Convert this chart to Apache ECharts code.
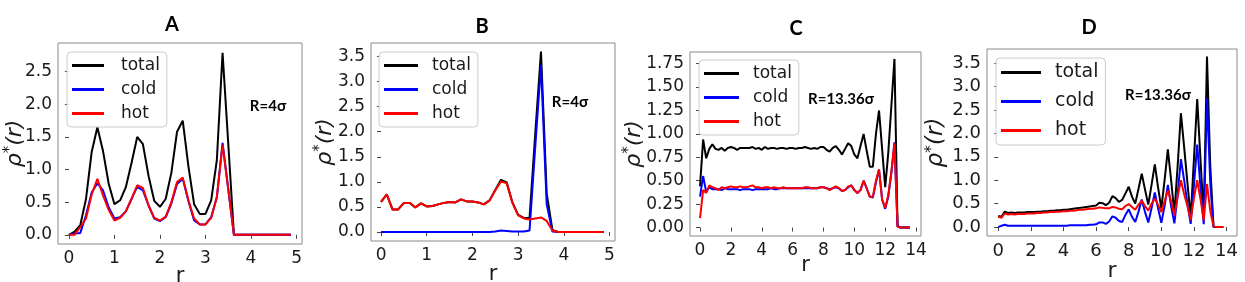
<!DOCTYPE html>
<html><head><meta charset="utf-8">
<script src="https://cdn.jsdelivr.net/npm/echarts@6/dist/echarts.min.js"></script>
<style>html,body{margin:0;padding:0;background:#fff}#c{width:1245px;height:282px}</style>
</head><body><div id="c"></div>
<script>
// ---- data ----
const seriesNames = ['total', 'cold', 'hot'];
const panelTitles = ['A', 'B', 'C', 'D'];
const annotations = ['R=4σ', 'R=4σ', 'R=13.36σ', 'R=13.36σ'];

const rA = [0,0.125,0.25,0.375,0.5,0.625,0.75,0.875,1,1.125,1.25,1.375,1.5,1.625,1.75,1.875,2,2.125,2.25,2.375,2.5,2.625,2.75,2.875,3,3.125,3.25,3.375,3.5,3.625,3.75,3.875,4,4.125,4.25,4.375,4.5,4.625,4.75,4.875];
const totalA = [0.0,0.05,0.15,0.55,1.27,1.65,1.28,0.78,0.47,0.53,0.73,1.10,1.50,1.39,0.90,0.52,0.43,0.55,0.95,1.58,1.75,1.05,0.47,0.32,0.32,0.53,1.15,2.79,1.40,0.0,0,0,0,0,0,0,0,0,0,0];
const coldA = [0.0,0.02,0.03,0.30,0.65,0.79,0.68,0.42,0.25,0.27,0.36,0.55,0.74,0.68,0.45,0.25,0.21,0.27,0.48,0.78,0.86,0.52,0.22,0.16,0.16,0.27,0.58,1.41,0.70,0.0,0,0,0,0,0,0,0,0,0,0];
const hotA = [0.0,0.0,0.12,0.25,0.62,0.86,0.60,0.38,0.22,0.26,0.36,0.55,0.76,0.72,0.45,0.26,0.22,0.28,0.50,0.81,0.88,0.53,0.25,0.16,0.16,0.26,0.58,1.38,0.70,0.0,0,0,0,0,0,0,0,0,0,0];

const rB = [0,0.125,0.25,0.375,0.5,0.625,0.75,0.875,1,1.125,1.25,1.375,1.5,1.625,1.75,1.875,2,2.125,2.25,2.375,2.5,2.625,2.75,2.875,3,3.125,3.25,3.375,3.5,3.625,3.75,3.875,4,4.125,4.25,4.375,4.5,4.625,4.75,4.875];
const totalB = [0.60,0.75,0.45,0.45,0.58,0.58,0.49,0.57,0.51,0.52,0.55,0.58,0.60,0.59,0.65,0.61,0.61,0.59,0.55,0.63,0.84,1.04,0.99,0.59,0.34,0.28,0.28,1.97,3.60,0.77,0.04,0.0,0,0,0,0,0,0,0,0];
const coldB = [0,0,0,0,0,0,0,0,0,0,0,0,0,0,0,0,0,0,0,0,0.01,0.03,0.02,0.01,0.01,0.01,0.03,1.70,3.33,0.55,0.01,0.0,0,0,0,0,0,0,0,0];
const hotB = [0.60,0.75,0.45,0.45,0.58,0.58,0.49,0.57,0.51,0.52,0.55,0.58,0.60,0.59,0.65,0.61,0.61,0.59,0.55,0.63,0.83,1.01,0.97,0.58,0.33,0.27,0.25,0.27,0.29,0.22,0.03,0.0,0,0,0,0,0,0,0,0];

const rC = [0,0.2,0.4,0.6,0.8,1,1.2,1.4,1.6,1.8,2,2.2,2.4,2.6,2.8,3,3.2,3.4,3.6,3.8,4,4.2,4.4,4.6,4.8,5,5.2,5.4,5.6,5.8,6,6.2,6.4,6.6,6.8,7,7.2,7.4,7.6,7.8,8,8.2,8.4,8.6,8.8,9,9.2,9.4,9.6,9.8,10,10.2,10.4,10.6,10.8,11,11.2,11.4,11.6,11.8,12,12.2,12.4,12.6,12.8,13,13.2,13.4,13.6];
const totalC = [0.44,0.94,0.74,0.84,0.89,0.84,0.83,0.85,0.82,0.85,
  0.86,0.85,0.83,0.85,0.85,0.85,0.85,0.86,0.84,0.85,
  0.83,0.86,0.84,0.85,0.85,0.84,0.85,0.85,0.84,0.85,
  0.85,0.84,0.85,0.85,0.86,0.85,0.84,0.85,0.84,0.86,
  0.86,0.83,0.81,0.85,0.87,0.83,0.78,0.84,0.90,0.87,
  0.78,0.74,0.87,1.00,0.82,0.65,0.65,1.00,1.25,0.84,
  0.43,0.80,1.30,1.80,0.02,0,0,0,0];
const coldC = [0.33,0.55,0.38,0.43,0.41,0.41,0.41,0.40,0.42,0.41,
  0.41,0.41,0.41,0.40,0.41,0.41,0.41,0.40,0.41,0.41,
  0.41,0.41,0.41,0.42,0.41,0.41,0.42,0.42,0.42,0.42,
  0.42,0.42,0.42,0.42,0.42,0.42,0.42,0.42,0.42,0.43,
  0.43,0.42,0.41,0.42,0.43,0.42,0.39,0.40,0.43,0.45,
  0.40,0.37,0.40,0.50,0.42,0.33,0.32,0.48,0.62,0.30,
  0.20,0.33,0.58,0.91,0.01,0,0,0,0];
const hotC = [0.10,0.40,0.37,0.45,0.43,0.42,0.40,0.43,0.42,0.43,
  0.44,0.43,0.43,0.44,0.43,0.43,0.44,0.45,0.43,0.43,
  0.42,0.43,0.43,0.42,0.43,0.42,0.42,0.43,0.42,0.42,
  0.42,0.42,0.42,0.42,0.43,0.43,0.42,0.42,0.42,0.43,
  0.43,0.42,0.40,0.42,0.44,0.42,0.39,0.40,0.44,0.45,
  0.40,0.37,0.40,0.50,0.42,0.33,0.33,0.50,0.62,0.30,
  0.21,0.35,0.60,0.90,0.01,0,0,0,0];

const rD = [0,0.2,0.4,0.6,0.8,1,1.2,1.4,1.6,1.8,2,2.2,2.4,2.6,2.8,3,3.2,3.4,3.6,3.8,4,4.2,4.4,4.6,4.8,5,5.2,5.4,5.6,5.8,6,6.2,6.4,6.6,6.8,7,7.2,7.4,7.6,7.8,8,8.2,8.4,8.6,8.8,9,9.2,9.4,9.6,9.8,10,10.2,10.4,10.6,10.8,11,11.2,11.4,11.6,11.8,12,12.2,12.4,12.6,12.8,13,13.2,13.4,13.6,13.8];
const totalD = [0.24,0.22,0.33,0.30,0.31,0.30,0.31,0.31,0.31,0.32,
  0.32,0.32,0.33,0.33,0.34,0.34,0.35,0.35,0.36,0.36,
  0.37,0.37,0.38,0.39,0.40,0.41,0.42,0.43,0.44,0.45,
  0.46,0.52,0.51,0.47,0.52,0.66,0.62,0.54,0.58,0.72,
  0.86,0.65,0.50,0.82,1.14,0.80,0.48,0.90,1.34,0.85,
  0.40,1.00,1.66,1.00,0.30,1.30,2.43,1.70,0.95,0.20,
  1.45,2.73,1.45,0.21,3.64,1.30,0.01,0,0,0];
const coldD = [0.00,0.03,0.05,0.03,0.03,0.03,0.03,0.03,0.03,0.03,
  0.03,0.03,0.03,0.03,0.03,0.03,0.03,0.03,0.03,0.03,
  0.03,0.03,0.04,0.04,0.04,0.04,0.04,0.04,0.05,0.05,
  0.06,0.10,0.10,0.07,0.12,0.23,0.20,0.13,0.11,0.26,
  0.38,0.22,0.11,0.33,0.59,0.32,0.10,0.40,0.74,0.40,
  0.09,0.45,0.90,0.45,0.08,0.70,1.45,1.00,0.50,0.07,
  0.90,1.76,0.85,0.06,2.75,0.95,0.00,0,0,0];
const hotD = [0.22,0.20,0.29,0.27,0.28,0.27,0.28,0.28,0.28,0.29,
  0.29,0.29,0.30,0.30,0.31,0.31,0.32,0.32,0.33,0.33,
  0.34,0.34,0.35,0.35,0.36,0.37,0.37,0.38,0.39,0.39,
  0.40,0.42,0.41,0.40,0.40,0.43,0.42,0.39,0.38,0.45,
  0.49,0.43,0.37,0.48,0.56,0.45,0.35,0.50,0.61,0.48,
  0.32,0.55,0.78,0.55,0.25,0.65,1.00,0.70,0.45,0.15,
  0.62,1.00,0.60,0.15,0.92,0.35,0.01,0,0,0];

const xTicksA = [0,1,2,3,4,5];
const yTicksA = [0,0.5,1.0,1.5,2.0,2.5];
const xTicksB = [0,1,2,3,4,5];
const yTicksB = [0,0.5,1.0,1.5,2.0,2.5,3.0,3.5];
const xTicksC = [0,2,4,6,8,10,12,14];
const yTicksC = [0,0.25,0.5,0.75,1.0,1.25,1.5,1.75];
const xTicksD = [0,2,4,6,8,10,12,14];
const yTicksD = [0,0.5,1.0,1.5,2.0,2.5,3.0,3.5];

// ---- layout / style ----
const colors = ['#000000', '#0000ff', '#ff0000'];
const panels = [
  {r:rA, s:[totalA,coldA,hotA], xt:xTicksA, yt:yTicksA, dec:1,
   grid:{left:58,top:43,width:244,height:201}, xr:[-0.24,5.12], yr:[-0.14,2.94], fs:17,
   nameGapY:31, nameGapX:22, legend:{left:67,top:52,itemWidth:32,gap:7,fs:17,tp:12},
   title:[172,25], ann:[268,106]},
  {r:rB, s:[totalB,coldB,hotB], xt:xTicksB, yt:yTicksB, dec:1,
   grid:{left:371,top:43,width:244,height:198}, xr:[-0.22,5.12], yr:[-0.18,3.77], fs:17,
   nameGapY:34, nameGapX:23, legend:{left:379,top:52,itemWidth:34,gap:7,fs:17,tp:9},
   title:[482,27], ann:[570,102]},
  {r:rC, s:[totalC,coldC,hotC], xt:xTicksC, yt:yTicksC, dec:2,
   grid:{left:690,top:52,width:231,height:184}, xr:[-0.65,14.32], yr:[-0.09,1.874], fs:17,
   nameGapY:44, nameGapX:19, legend:{left:699,top:60,itemWidth:35,gap:7,fs:17,tp:9},
   title:[796,29], ann:[841,99]},
  {r:rD, s:[totalD,coldD,hotD], xt:xTicksD, yt:yTicksD, dec:1,
   grid:{left:987,top:49,width:250,height:187}, xr:[-0.69,14.64], yr:[-0.19,3.80], fs:18,
   nameGapY:38, nameGapX:24, legend:{left:996,top:58,itemWidth:40,gap:10,fs:19,tp:9},
   title:[1089,28], ann:[1158,95]}
];

const option = {
  animation: false,
  backgroundColor: '#fff',
  textStyle: {fontFamily: 'DejaVu Sans'},
  grid: [], xAxis: [], yAxis: [], series: [], legend: [], graphic: []
};

panels.forEach((p, k) => {
  option.grid.push(Object.assign({show:true, borderColor:'#8a8a8a', borderWidth:1, backgroundColor:'transparent',
    containLabel:false, outerBoundsMode:'none'}, p.grid));
  option.xAxis.push({
    type:'value', gridIndex:k, min:p.xr[0], max:p.xr[1],
    name:'r', nameLocation:'middle', nameGap:p.nameGapX, nameMoveOverlap:false,
    nameTextStyle:{fontSize:p.fs+4, color:'#1a1a1a', fontFamily:'DejaVu Sans'},
    axisLine:{show:false}, splitLine:{show:false},
    axisTick:{show:true, length:4, lineStyle:{color:'#444'}, customValues:p.xt},
    axisLabel:{fontSize:p.fs, color:'#1a1a1a', fontFamily:'DejaVu Sans', margin:6, customValues:p.xt, formatter:v=>String(Math.round(v))}
  });
  option.yAxis.push({
    type:'value', gridIndex:k, min:p.yr[0], max:p.yr[1],
    name:'{g|ρ}{s|*}{g|(}{i|r}{g|)}', nameLocation:'middle', nameGap:p.nameGapY, nameRotate:90, nameMoveOverlap:false,
    nameTextStyle:{rich:{
      g:{fontSize:p.fs+5, color:'#1a1a1a', fontFamily:'DejaVu Sans', fontStyle:'italic'},
      i:{fontSize:p.fs+5, color:'#1a1a1a', fontFamily:'DejaVu Sans', fontStyle:'italic'},
      s:{fontSize:p.fs-2, color:'#1a1a1a', fontFamily:'DejaVu Sans', padding:[0,0,9,0]}
    }},
    axisLine:{show:false}, splitLine:{show:false},
    axisTick:{show:true, length:4, lineStyle:{color:'#444'}, customValues:p.yt},
    axisLabel:{fontSize:p.fs, color:'#1a1a1a', fontFamily:'DejaVu Sans', margin:6, customValues:p.yt, formatter:v=>v.toFixed(p.dec)}
  });
  seriesNames.forEach((nm, j) => {
    option.series.push({
      type:'line', name:nm, xAxisIndex:k, yAxisIndex:k, symbol:'none',
      lineStyle:{color:colors[j], width:2}, itemStyle:{color:colors[j]},
      data:p.r.map((r,i)=>[r, p.s[j][i]]), z:2+j
    });
  });
  option.legend.push({
    data: seriesNames, orient:'vertical', left:p.legend.left, top:p.legend.top,
    icon:'rect', itemWidth:p.legend.itemWidth, itemHeight:3, itemGap:p.legend.gap,
    padding:[5,7,5,5], borderColor:'#cccccc', borderWidth:1, borderRadius:4,
    backgroundColor:'rgba(255,255,255,0.85)',
    textStyle:{fontSize:p.legend.fs, color:'#1a1a1a', fontFamily:'DejaVu Sans', padding:[0,0,0,p.legend.tp]},
    selectedMode:false
  });
  option.graphic.push({type:'text', x:p.title[0], y:p.title[1], z:10,
    style:{text:panelTitles[k], font:'bold 20px Lato', fill:'#000', align:'center', verticalAlign:'middle'}});
  option.graphic.push({type:'text', x:p.ann[0], y:p.ann[1], z:10,
    style:{text:annotations[k], font:'bold 15px Lato', fill:'#000', align:'center', verticalAlign:'middle'}});
});

const chart = echarts.init(document.getElementById('c'), null, {renderer:'canvas'});
chart.setOption(option);
</script></body></html>
